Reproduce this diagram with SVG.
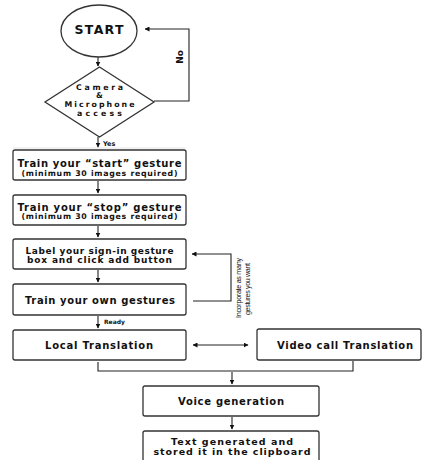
<svg xmlns="http://www.w3.org/2000/svg" width="422" height="460" viewBox="0 0 422 460">
<defs>
<marker id="ah" viewBox="0 0 10 10" refX="9" refY="5" markerWidth="5" markerHeight="5" orient="auto-start-reverse" markerUnits="userSpaceOnUse">
<path d="M0,0 L10,5 L0,10 Z" fill="#111"/>
</marker>
<style>
.box{fill:#fff;stroke:#333;stroke-width:1.3}
.ln{fill:none;stroke:#222;stroke-width:1.1}
.t{font-family:"DejaVu Sans","Liberation Sans",sans-serif;font-weight:bold;fill:#111;text-anchor:middle}
.s{font-family:"Liberation Sans",Arial,sans-serif;fill:#111;text-anchor:middle}
.l{font-family:"DejaVu Sans","Liberation Sans",sans-serif;font-weight:bold;fill:#111;text-anchor:start}
</style>
</defs>
<rect width="422" height="460" fill="#fff"/>
<line x1="13" y1="148" x2="185" y2="148" stroke="#e4e4e4" stroke-width="1"/>
<g id="connectors">
<line class="ln" x1="98" y1="57" x2="98" y2="66" marker-end="url(#ah)"/>
<polyline class="ln" points="154,101 189,101 189,29 145,29" marker-end="url(#ah)"/>
<line class="ln" x1="98" y1="137" x2="98" y2="147" marker-end="url(#ah)"/>
<line class="ln" x1="98" y1="181" x2="98" y2="193" marker-end="url(#ah)"/>
<line class="ln" x1="98" y1="226" x2="98" y2="237" marker-end="url(#ah)"/>
<line class="ln" x1="98" y1="270" x2="98" y2="282" marker-end="url(#ah)"/>
<polyline class="ln" points="193,301 231,301 231,254 192,254" marker-end="url(#ah)"/>
<line class="ln" x1="98" y1="316" x2="98" y2="328" marker-end="url(#ah)"/>
<line class="ln" x1="193" y1="345" x2="248" y2="345" marker-start="url(#ah)" marker-end="url(#ah)"/>
<polyline class="ln" points="98,362 98,371 353,371 353,361"/>
<line class="ln" x1="232" y1="372" x2="232" y2="384" marker-end="url(#ah)"/>
<line class="ln" x1="232" y1="417" x2="232" y2="429" marker-end="url(#ah)"/>
<text class="t" x="0" y="0" font-size="9" transform="translate(183,57) rotate(-90)">No</text>
<text class="l" x="103" y="145.5" font-size="6.5">Yes</text>
<text class="l" x="104" y="323.5" font-size="6">Ready</text>
<text class="s" font-size="7.2" transform="translate(241,288) rotate(-90)" textLength="60">Incorporate as many</text>
<text class="s" font-size="7.2" transform="translate(250,289) rotate(-90)" textLength="52">gestures you want</text>
</g>
<g id="start">
<ellipse class="box" cx="99" cy="31" rx="38" ry="26"/>
<text class="t" x="99" y="34" font-size="12.5" textLength="49">START</text>
</g>
<g id="access">
<polygon class="box" points="99.5,67 154,102 99.5,137 45,102"/>
<text class="t" x="99.5" y="89.5" font-size="7.8" textLength="47">Camera</text>
<text class="t" x="99.5" y="98.2" font-size="7.8">&amp;</text>
<text class="t" x="99.5" y="106.9" font-size="7.8" textLength="70">Microphone</text>
<text class="t" x="99.5" y="115.6" font-size="7.8" textLength="45">access</text>
</g>
<g id="train-start">
<rect class="box" x="13" y="150" width="173" height="30" rx="2"/>
<text class="t" x="99.5" y="166.5" font-size="10" textLength="164">Train your “start” gesture</text>
<text class="t" x="99.5" y="175.5" font-size="7.8" textLength="156">(minimum 30 images required)</text>
</g>
<g id="train-stop">
<rect class="box" x="13" y="195" width="173" height="30" rx="2"/>
<text class="t" x="99.5" y="210.5" font-size="10" textLength="164">Train your “stop” gesture</text>
<text class="t" x="99.5" y="219" font-size="7.8" textLength="156">(minimum 30 images required)</text>
</g>
<g id="label-gesture">
<rect class="box" x="13" y="239" width="173" height="30" rx="2"/>
<text class="t" x="99.5" y="253.5" font-size="9" textLength="148">Label your sign-in gesture</text>
<text class="t" x="99.5" y="262.5" font-size="9" textLength="145">box and click add button</text>
</g>
<g id="train-own">
<rect class="box" x="13" y="284" width="173" height="31" rx="2"/>
<text class="t" x="100" y="303.5" font-size="10" textLength="150">Train your own gestures</text>
</g>
<g id="local">
<rect class="box" x="13" y="330" width="173" height="30" rx="2"/>
<text class="t" x="99" y="348.5" font-size="10" textLength="108">Local Translation</text>
</g>
<g id="video">
<rect class="box" x="257" y="329" width="164" height="31" rx="2"/>
<text class="t" x="345" y="348.5" font-size="10" textLength="136">Video call Translation</text>
</g>
<g id="voice">
<rect class="box" x="143" y="386" width="176" height="30" rx="2"/>
<text class="t" x="231" y="404.5" font-size="10" textLength="106">Voice generation</text>
</g>
<g id="clipboard">
<rect class="box" x="143" y="431" width="176" height="36" rx="2"/>
<text class="t" x="232" y="445" font-size="9.5" textLength="122">Text generated and</text>
<text class="t" x="232" y="455" font-size="9.5" textLength="157">stored it in the clipboard</text>
</g>
</svg>
